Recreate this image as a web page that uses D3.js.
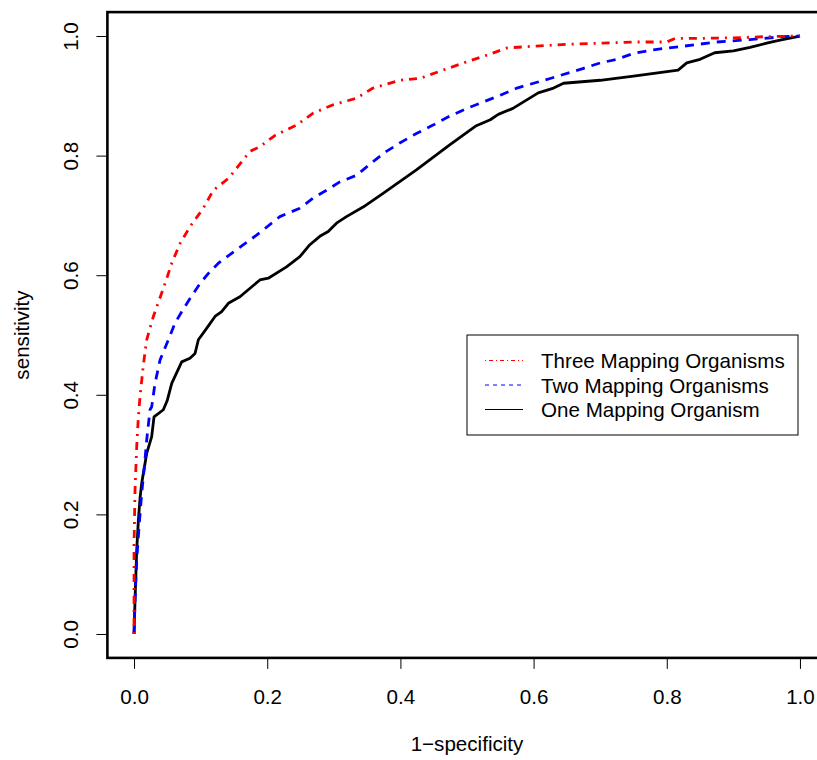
<!DOCTYPE html>
<html>
<head>
<meta charset="utf-8">
<script src="https://cdn.jsdelivr.net/npm/d3@7.9.0/dist/d3.min.js"></script>
<style>
  body { margin: 0; background: #fff; }
  svg { display: block; font-family: "Liberation Sans", Arial, sans-serif; }
</style>
</head>
<body>
<svg id="chart" width="817" height="760"></svg>
<script>
// ROC curves
const threeFpr = [0, 0, 0.0015, 0.004, 0.0065, 0.009, 0.014, 0.019, 0.029, 0.0466, 0.0566, 0.069, 0.084, 0.104, 0.119, 0.142, 0.164, 0.174, 0.189, 0.212, 0.244, 0.269, 0.299, 0.334, 0.359, 0.399, 0.429, 0.464, 0.5, 0.53, 0.56, 0.6, 0.65, 0.7, 0.75, 0.8, 0.8125, 0.85, 0.9, 0.95, 1.0];
const threeTpr = [0, 0.15, 0.241, 0.313, 0.363, 0.397, 0.450, 0.492, 0.531, 0.586, 0.620, 0.653, 0.681, 0.712, 0.742, 0.762, 0.793, 0.807, 0.815, 0.834, 0.851, 0.871, 0.885, 0.896, 0.913, 0.926, 0.929, 0.943, 0.957, 0.968, 0.980, 0.983, 0.986, 0.988, 0.99, 0.99, 0.996, 0.996, 0.997, 0.999, 1.0];

const twoFpr = [0, 0.0015, 0.004, 0.008, 0.0115, 0.0155, 0.019, 0.024, 0.0265, 0.0315, 0.039, 0.0515, 0.0616, 0.0716, 0.084, 0.099, 0.1116, 0.1266, 0.147, 0.184, 0.219, 0.249, 0.269, 0.289, 0.309, 0.334, 0.359, 0.379, 0.399, 0.424, 0.449, 0.474, 0.5, 0.55, 0.575, 0.6, 0.625, 0.675, 0.7, 0.725, 0.75, 0.78, 0.825, 0.875, 0.925, 0.975, 1.0];
const twoTpr = [0, 0.057, 0.124, 0.186, 0.235, 0.28, 0.324, 0.375, 0.38, 0.419, 0.458, 0.492, 0.52, 0.539, 0.561, 0.586, 0.603, 0.62, 0.637, 0.667, 0.698, 0.712, 0.729, 0.742, 0.756, 0.767, 0.790, 0.807, 0.821, 0.837, 0.851, 0.866, 0.879, 0.901, 0.913, 0.921, 0.929, 0.946, 0.955, 0.961, 0.971, 0.977, 0.983, 0.99, 0.994, 0.999, 1.0];

const oneFpr = [0, 0.0015, 0.004, 0.0065, 0.009, 0.0115, 0.019, 0.0265, 0.03, 0.044, 0.05, 0.0566, 0.0716, 0.084, 0.0916, 0.0966, 0.109, 0.1216, 0.1316, 0.1416, 0.159, 0.189, 0.2016, 0.229, 0.249, 0.264, 0.279, 0.2916, 0.304, 0.319, 0.344, 0.374, 0.424, 0.474, 0.514, 0.535, 0.547, 0.569, 0.607, 0.63, 0.645, 0.7, 0.75, 0.817, 0.83, 0.85, 0.872, 0.9, 0.925, 0.95, 0.97, 1.0];
const oneTpr = [0, 0.057, 0.14, 0.19, 0.227, 0.252, 0.302, 0.33, 0.363, 0.375, 0.391, 0.419, 0.455, 0.461, 0.469, 0.492, 0.511, 0.531, 0.539, 0.553, 0.564, 0.592, 0.595, 0.614, 0.631, 0.651, 0.665, 0.673, 0.687, 0.698, 0.714, 0.737, 0.776, 0.818, 0.850, 0.860, 0.869, 0.879, 0.905, 0.913, 0.921, 0.926, 0.933, 0.943, 0.955, 0.961, 0.972, 0.975, 0.981, 0.988, 0.993, 1.0];

const seriesNames = ['Three Mapping Organisms', 'Two Mapping Organisms', 'One Mapping Organism'];
const tickValues = [0, 0.2, 0.4, 0.6, 0.8, 1.0];

// style per series (same order as seriesNames)
const styles = [
  { color: '#ff0000', dash: '2,6,8,6', legendDash: '1,3,4,3' },
  { color: '#0000ff', dash: '9,7', legendDash: '4,4' },
  { color: '#000000', dash: null, legendDash: null }
];

const fontSize = 20.6;
const svg = d3.select('#chart');

// R pads the data range by 4% on each side
const x = d3.scaleLinear().domain([-0.04, 1.04]).range([107.4, 826.6]);
const y = d3.scaleLinear().domain([-0.04, 1.04]).range([657.9, 12.1]);

const series = [
  threeFpr.map((v, i) => [v, threeTpr[i]]),
  twoFpr.map((v, i) => [v, twoTpr[i]]),
  oneFpr.map((v, i) => [v, oneTpr[i]])
];

const line = d3.line().x(d => x(d[0])).y(d => y(d[1]));

// draw black first, red on top
[2, 1, 0].forEach(i => {
  svg.append('path')
    .datum(series[i])
    .attr('d', line)
    .attr('fill', 'none')
    .attr('stroke', styles[i].color)
    .attr('stroke-width', 2.8)
    .attr('stroke-linejoin', 'round')
    .attr('stroke-dasharray', styles[i].dash);
});

// x axis
const xAxis = svg.append('g')
  .attr('transform', `translate(0,${y(-0.04)})`)
  .call(d3.axisBottom(x).tickValues(tickValues).tickSize(11).tickPadding(20)
    .tickFormat(d3.format('.1f')));
xAxis.select('.domain').remove();
xAxis.selectAll('line').attr('stroke', '#000').attr('stroke-width', 1);
xAxis.selectAll('text').attr('font-size', fontSize).attr('fill', '#000')
  .attr('font-family', '"Liberation Sans", Arial, sans-serif');

// y axis, labels parallel to the axis
const yAxis = svg.append('g')
  .attr('transform', `translate(${x(-0.04)},0)`)
  .call(d3.axisLeft(y).tickValues(tickValues).tickSize(11).tickFormat(d3.format('.1f')));
yAxis.select('.domain').remove();
yAxis.selectAll('line').attr('stroke', '#000').attr('stroke-width', 1);
yAxis.selectAll('text')
  .attr('font-size', fontSize).attr('fill', '#000')
  .attr('font-family', '"Liberation Sans", Arial, sans-serif')
  .attr('x', null).attr('dy', null)
  .attr('text-anchor', 'middle')
  .attr('transform', `translate(${78 - x(-0.04)},0) rotate(-90)`);

// plot box
svg.append('rect')
  .attr('x', x(-0.04)).attr('y', y(1.04))
  .attr('width', x(1.04) - x(-0.04)).attr('height', y(-0.04) - y(1.04))
  .attr('fill', 'none').attr('stroke', '#000').attr('stroke-width', 2.6);

// axis titles
svg.append('text')
  .attr('x', (x(-0.04) + x(1.04)) / 2).attr('y', 751)
  .attr('text-anchor', 'middle').attr('font-size', fontSize)
  .text('1\u2212specificity');

svg.append('text')
  .attr('transform', `translate(29,${(y(-0.04) + y(1.04)) / 2}) rotate(-90)`)
  .attr('text-anchor', 'middle').attr('font-size', fontSize)
  .text('sensitivity');

// legend
const legend = svg.append('g');
legend.append('rect')
  .attr('x', 467).attr('y', 335).attr('width', 331).attr('height', 100)
  .attr('fill', '#fff').attr('stroke', '#000').attr('stroke-width', 1);

const rowY = [360.5, 385, 409.5];
seriesNames.forEach((name, i) => {
  legend.append('line')
    .attr('x1', 485).attr('x2', 523)
    .attr('y1', rowY[i]).attr('y2', rowY[i])
    .attr('stroke', styles[i].color).attr('stroke-width', 1)
    .attr('stroke-dasharray', styles[i].legendDash);
  legend.append('text')
    .attr('x', 541).attr('y', rowY[i] + 7.5)
    .attr('font-size', fontSize)
    .text(name);
});
</script>
</body>
</html>
